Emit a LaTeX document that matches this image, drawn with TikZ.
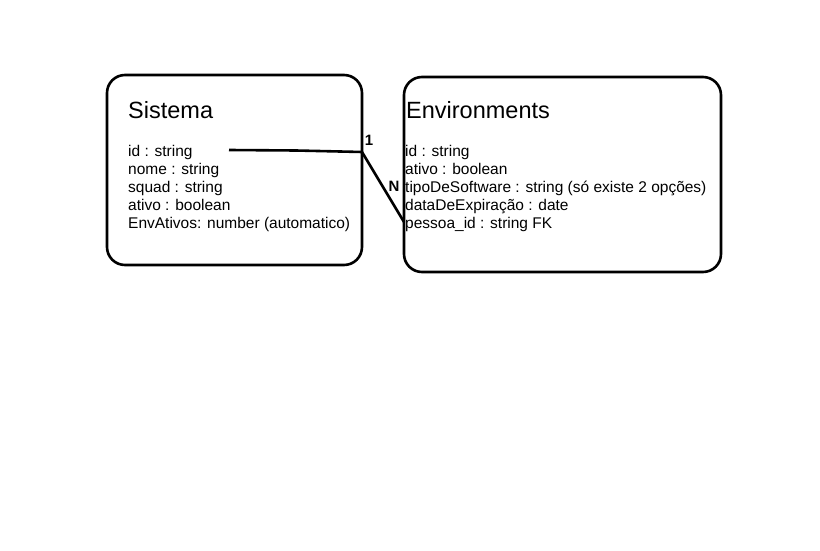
\documentclass[tikz,border=0pt]{standalone}
\usepackage{fontspec}
\setmainfont{Liberation Sans}
\begin{document}
\begin{tikzpicture}[x=1pt,y=-1pt,
  entity/.style={draw=black,line width=2.6pt,rounded corners=18pt},
  title/.style={anchor=west,inner sep=0pt,font=\fontsize{23.5}{26}\selectfont},
  attrs/.style={anchor=north west,inner sep=0pt,align=left,font=\fontsize{15.5}{18}\selectfont},
  card/.style={inner sep=0pt,font=\bfseries\fontsize{15}{16}\selectfont},
  rel/.style={line width=2.6pt}]
\useasboundingbox[fill=white] (0,0) rectangle (820,551);
\draw[entity] (107,75) rectangle (362,265);
\draw[entity] (404,77) rectangle (721,272);
\node[title] (t1) at (128,110) {Sistema};
\node[title] (t2) at (406,110) {Environments};
\node[attrs] (a1) at (128,145.5) {id : string\\nome : string\\squad : string\\ativo : boolean\\EnvAtivos: number (automatico)};
\node[attrs] (a2) at (405,145.5) {id : string\\ativo : boolean\\tipoDeSoftware : string (só existe 2 opções)\\dataDeExpiração : date\\pessoa\_id : string FK};
\coordinate (s) at (229,150);
\coordinate (m) at (296,150.5);
\coordinate (k) at (362,152);
\coordinate (e) at (404,222);
\draw[rel] (s) -- (m) -- (k) -- (e);
\node[card] (c1) at (369,140) {1};
\node[card] (cn) at (394,186) {N};
\end{tikzpicture}
\end{document}
